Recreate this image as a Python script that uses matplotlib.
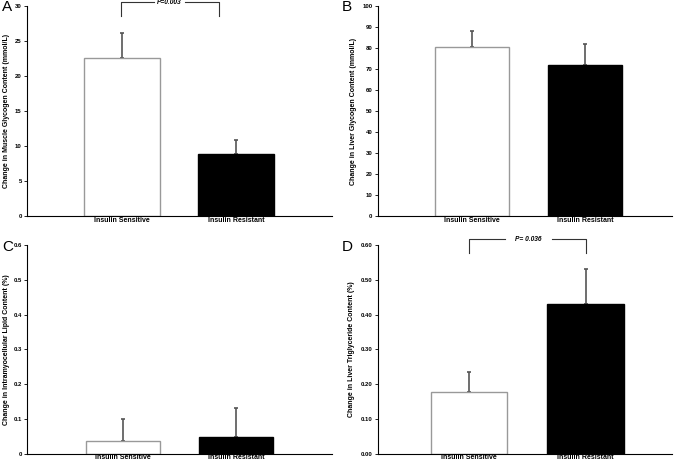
import matplotlib
matplotlib.use("Agg")
import matplotlib.pyplot as plt
import numpy as np

groups = ["Insulin Sensitive", "Insulin Resistant"]

muscle_glycogen = [22.6, 8.9]
muscle_glycogen_err = [3.5, 1.9]
liver_glycogen = [80.3, 71.8]
liver_glycogen_err = [7.7, 10.2]
imcl = [0.035, 0.048]
imcl_err = [0.066, 0.084]
liver_tg = [0.178, 0.43]
liver_tg_err = [0.058, 0.10]

plt.rcParams['font.family'] = ['Liberation Sans', 'DejaVu Sans']

fig = plt.figure(figsize=(6.8, 4.61), dpi=100)

panels = [
    ("A", [0.040, 0.5315, 0.448, 0.4555], muscle_glycogen, muscle_glycogen_err,
     "Change in Muscle Glycogen Content (mmol/L)", np.arange(0, 31, 5), "{:.0f}",
     (-0.83, 1.84), -0.056, (0.003, 0.985)),
    ("B", [0.556, 0.5315, 0.432, 0.4555], liver_glycogen, liver_glycogen_err,
     "Change in Liver Glycogen Content (mmol/L)", np.arange(0, 101, 10), "{:.0f}",
     (-0.83, 1.77), -0.071, (0.502, 0.985)),
    ("C", [0.040, 0.016, 0.448, 0.4525], imcl, imcl_err,
     "Change in Intramyocellular Lipid Content (%)", np.arange(0, 0.61, 0.1), "{:g}",
     (-0.85, 1.85), -0.056, (0.003, 0.465)),
    ("D", [0.556, 0.016, 0.432, 0.4525], liver_tg, liver_tg_err,
     "Change in Liver Triglyceride Content (%)", np.arange(0, 0.61, 0.1), "{:.2f}",
     (-0.78, 1.74), -0.078, (0.502, 0.465)),
]

axes = {}
for letter, rect, vals, errs, ylabel, yticks, fmt, xlim, labx, letpos in panels:
    ax = fig.add_axes(rect)
    x = np.arange(len(groups))
    ax.bar(x, vals, width=0.66, color=["white", "black"],
           edgecolor=["#999999", "black"], linewidth=1.0, zorder=2)
    ax.errorbar(x, vals, yerr=[[0, 0], errs], fmt="none", ecolor="#555555",
                elinewidth=1.2, capsize=1.5, capthick=1.2, zorder=1)
    ax.set_xlim(*xlim)
    ax.set_ylim(yticks[0], yticks[-1])
    ax.set_yticks(yticks)
    ax.set_yticklabels([fmt.format(t) for t in yticks], fontsize=4.3, fontweight="bold")
    ax.set_xticks(x)
    ax.set_xticklabels(groups, fontsize=5, fontweight="bold")
    ax.tick_params(axis="x", length=0, pad=0.5)
    ax.tick_params(axis="y", length=2, width=0.6, pad=2)
    ax.set_ylabel(ylabel, fontsize=5, fontweight="bold")
    ax.yaxis.set_label_coords(labx, 0.5)
    for s in ["top", "right"]:
        ax.spines[s].set_visible(False)
    ax.spines["left"].set_linewidth(0.8)
    ax.spines["bottom"].set_linewidth(0.8)
    fig.text(letpos[0], letpos[1], letter, fontsize=11, ha="left", va="center")
    axes[letter] = ax

# significance brackets
def bracket(ax, x0, x1, y_top, y_bot, text, gap0, gap1):
    kw = dict(color="#333333", lw=0.8, clip_on=False)
    ax.plot([x0, x0, gap0], [y_bot, y_top, y_top], **kw)
    ax.plot([gap1, x1, x1], [y_top, y_top, y_bot], **kw)
    ax.text((gap0 + gap1) / 2, y_top, text, fontsize=4.8, fontstyle="italic",
            fontweight="bold", ha="center", va="center", clip_on=False)

bracket(axes["A"], -0.01, 0.85, 30.57, 28.6, "P=0.003", 0.28, 0.55)
bracket(axes["D"], 0.0, 1.0, 0.616, 0.578, "P= 0.036", 0.31, 0.71)

fig.savefig("out.png", dpi=100)
